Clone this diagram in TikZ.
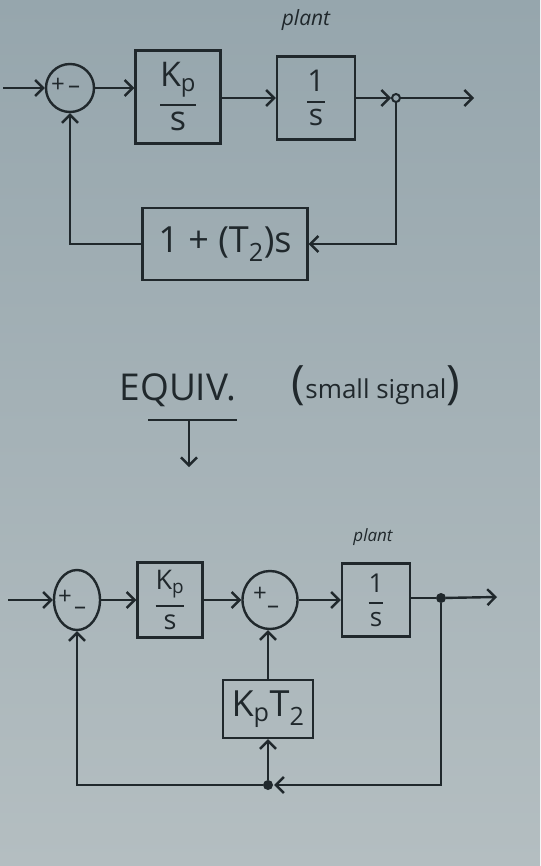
\documentclass[tikz,border=0pt]{standalone}
\usepackage{amsmath}
\usepackage{fontspec}
\setmainfont{Open Sans}
\usetikzlibrary{arrows.meta,positioning,shapes.geometric,calc}

\definecolor{paperTop}{RGB}{150,166,173}
\definecolor{paperBot}{RGB}{180,190,193}
\definecolor{ink}{RGB}{32,40,44}
\newcommand{\tfbox}[2]{$\genfrac{}{}{2.2pt}{0}{\mbox{#1}}{\mbox{#2}}$}

\begin{document}
\begin{tikzpicture}[x=1pt, y=-1pt,
    block/.style={draw=ink, line width=2.4pt, inner sep=2pt, text=ink},
    sum/.style={draw=ink, line width=2.4pt, ellipse, inner sep=0pt},
    sign/.style={text=ink, inner sep=0pt, font=\fontsize{24}{24}\selectfont},
    note/.style={text=ink, inner sep=0pt},
    dot/.style={circle, fill=ink, inner sep=0pt, minimum size=10pt},
    odot/.style={circle, draw=ink, line width=2pt, fill=paperTop, inner sep=0pt, minimum size=8pt},
    line/.style={draw=ink, line width=2.4pt, -{Straight Barb[length=8pt,width=16pt]}},
    wire/.style={draw=ink, line width=2.4pt}
]
\shade[top color=paperTop, bottom color=paperBot] (0,0) rectangle (540,866);
\useasboundingbox (0,0) rectangle (540,866);

% upper loop
\node[sum, minimum width=48pt, minimum height=48pt] (sumA) at (70,88) {};
\node[sign] at ([xshift=-12pt,yshift=3pt]sumA.center) {+};
\node[sign] at ([xshift=4pt,yshift=-2pt]sumA.center) {–};
\node[block, minimum width=85pt, minimum height=93pt,
      font=\fontsize{34}{40}\selectfont] (ctrlA) at (178,97) {\tfbox{K\textsubscript{p}}{s}};
\node[block, minimum width=78pt, minimum height=83pt,
      font=\fontsize{30}{36}\selectfont] (plantA) at (316,98) {\tfbox{1}{s}};
\node[note, font=\fontsize{21}{21}\selectfont\itshape] (plantAlbl) at (306,20) {plant};
\node[odot] (tapA) at (396,98) {};
\node[block, minimum width=165pt, minimum height=72pt,
      font=\fontsize{36}{40}\selectfont] (fbA) at (225,244) {1 + (T\textsubscript{2})s};
\coordinate (inA) at (3,88);
\coordinate (outA) at (474,98);

\draw[line] (inA) -- (sumA.west);
\draw[line] (sumA.east) -- (sumA.east -| ctrlA.west);
\draw[line] (ctrlA.east |- plantA.west) -- (plantA.west);
\draw[line] (plantA.east) -- (tapA.west);
\draw[line] (tapA.east) -- (outA);
\draw[line] (tapA.south) |- (fbA.east);
\draw[line] (fbA.west) -| (sumA.south);

% equivalence note
\node[note, font=\fontsize{37}{37}\selectfont] (equiv) at (178,390) {EQUIV.};
\node[note, font=\fontsize{26}{26}\selectfont] (small) at (376,386)
     {{\fontsize{46}{46}\selectfont(}small signal{\fontsize{46}{46}\selectfont)}};
\coordinate (ulL) at (148,420);
\coordinate (ulR) at (237,420);
\coordinate (ulM) at (189,420);
\coordinate (ulEnd) at (189,467);
\draw[wire] (ulL) -- (ulR);
\draw[line] (ulM) -- (ulEnd);

% lower loop
\node[sum, minimum width=46pt, minimum height=60pt] (sumB) at (77,600) {};
\node[sign] at ([xshift=-12pt,yshift=3pt]sumB.center) {+};
\node[sign] at ([xshift=3pt,yshift=-11pt]sumB.center) {–};
\node[block, minimum width=65pt, minimum height=75pt,
      font=\fontsize{27}{32}\selectfont] (ctrlB) at (170,600) {\tfbox{K\textsubscript{p}}{s}};
\node[sum, minimum width=55pt, minimum height=58pt] (sumC) at (270,600) {};
\node[sign] at ([xshift=-10pt,yshift=6pt]sumC.center) {+};
\node[sign] at ([xshift=3pt,yshift=-10pt]sumC.center) {–};
\node[block, minimum width=68pt, minimum height=73pt,
      font=\fontsize{26}{32}\selectfont] (plantB) at (376,600) {\tfbox{1}{s}};
\node[note, font=\fontsize{17}{17}\selectfont\itshape] (plantBlbl) at (373,537) {plant};
\node[dot] (tapB) at (441,598) {};
\node[block, minimum width=90pt, minimum height=58pt,
      font=\fontsize{36}{40}\selectfont] (gainB) at (268,709) {K\textsubscript{p}T\textsubscript{2}};
\node[dot] (splitB) at (268,785) {};
\coordinate (inB) at (8,600);
\coordinate (outB) at (497,597);

\draw[line] (inB) -- (sumB.west);
\draw[line] (sumB.east) -- (ctrlB.west);
\draw[line] (ctrlB.east) -- (sumC.west);
\draw[line] (sumC.east) -- (plantB.west);
\draw[wire] (plantB.east |- tapB) -- (tapB);
\draw[line] (tapB) -- (outB);
\draw[line, shorten >=1pt] (tapB) |- (splitB.east);
\draw[line] (splitB) -- (gainB.south);
\draw[line] (gainB.north) -- (gainB.north |- sumC.south);
\draw[line] (splitB) -| (sumB.south);
\end{tikzpicture}
\end{document}
